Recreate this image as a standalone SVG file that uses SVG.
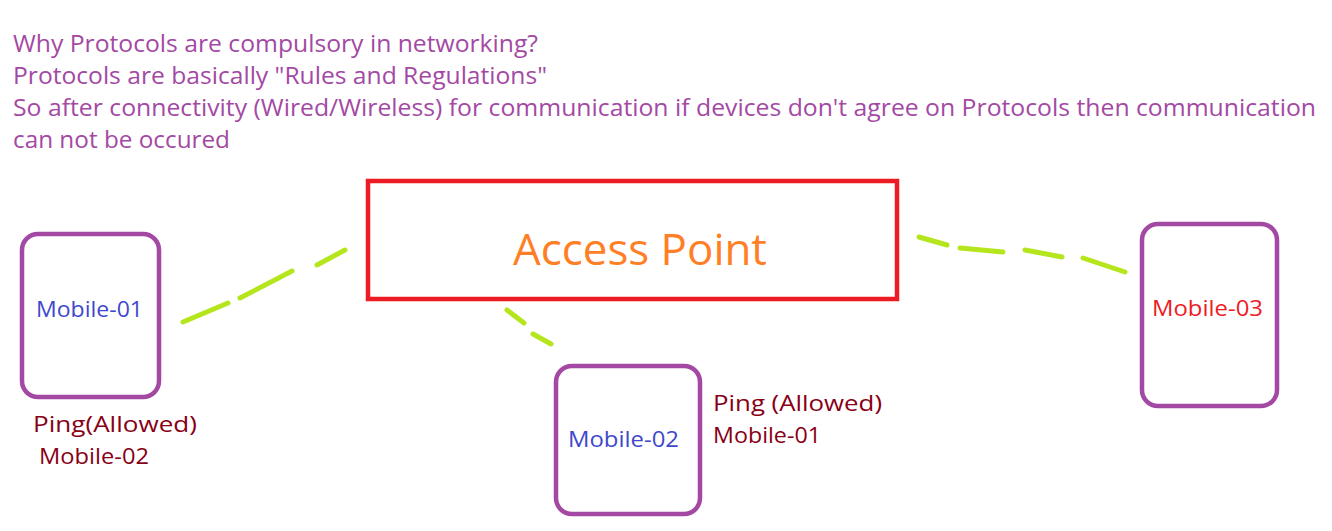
<svg xmlns="http://www.w3.org/2000/svg" width="1332" height="531" viewBox="0 0 1332 531">
<style>
text{font-family:"Open Sans","Noto Sans",sans-serif}
.hdr{fill:#a349a4;font-size:24px}
.dev{fill:none;stroke:#a349a4;stroke-width:4.5}
.lbl{font-size:21px}
.note{fill:#880015;font-size:22px}
.conn{fill:none;stroke:#b5e61d;stroke-width:5;stroke-linecap:round}
</style>
<rect width="1332" height="531" fill="#ffffff"/>
<g id="header">
<text class="hdr" x="13" y="52" textLength="525" lengthAdjust="spacingAndGlyphs">Why Protocols are compulsory in networking?</text>
<text class="hdr" x="13" y="84" textLength="534" lengthAdjust="spacingAndGlyphs">Protocols are basically "Rules and Regulations"</text>
<text class="hdr" x="13" y="116" textLength="1303" lengthAdjust="spacingAndGlyphs">So after connectivity (Wired/Wireless) for communication if devices don't agree on Protocols then communication</text>
<text class="hdr" x="13" y="148" textLength="217" lengthAdjust="spacingAndGlyphs">can not be occured</text>
</g>
<g id="connectors">
<path class="conn" d="M183,322 L228,303 M240,298 L292,271 M317,265 L345,250"/>
<path class="conn" d="M507,310 L524,323 M533,334 L551,344"/>
<path class="conn" d="M919,237 L947,245 M960,248 L1003,252 M1025,250 L1062,257 M1083,258 L1125,272"/>
</g>
<g id="access-point">
<rect x="368" y="181" width="529" height="118" fill="none" stroke="#ed1c24" stroke-width="4.5"/>
<text x="513" y="265" fill="#ff7f27" font-size="43" textLength="254" lengthAdjust="spacingAndGlyphs">Access Point</text>
</g>
<g id="mobile-01">
<rect class="dev" x="22" y="234" width="137" height="163" rx="16"/>
<text class="lbl" x="36" y="317" fill="#3f48cc" textLength="107" lengthAdjust="spacingAndGlyphs">Mobile-01</text>
<text class="note" x="33" y="432" textLength="164" lengthAdjust="spacingAndGlyphs">Ping(Allowed)</text>
<text class="note" x="39" y="464" textLength="110" lengthAdjust="spacingAndGlyphs">Mobile-02</text>
</g>
<g id="mobile-02">
<rect class="dev" x="556" y="366" width="144" height="148" rx="16"/>
<text class="lbl" x="568" y="447" fill="#3f48cc" textLength="111" lengthAdjust="spacingAndGlyphs">Mobile-02</text>
<text class="note" x="713" y="411" textLength="169" lengthAdjust="spacingAndGlyphs">Ping (Allowed)</text>
<text class="note" x="713" y="443" textLength="108" lengthAdjust="spacingAndGlyphs">Mobile-01</text>
</g>
<g id="mobile-03">
<rect class="dev" x="1142" y="224" width="135" height="182" rx="16"/>
<text class="lbl" x="1152" y="316" fill="#ed1c24" textLength="111" lengthAdjust="spacingAndGlyphs">Mobile-03</text>
</g>
</svg>
